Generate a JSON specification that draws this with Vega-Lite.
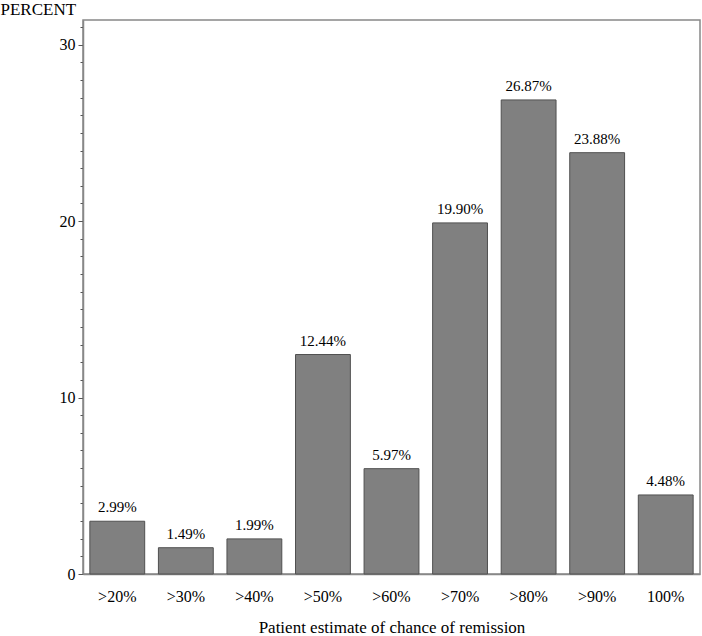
{
  "$schema": "https://vega.github.io/schema/vega-lite/v6.json",
  "autosize": "none",
  "width": 617,
  "height": 554,
  "padding": {"left": 83, "top": 20, "right": 2, "bottom": 62},
  "background": "white",
  "config": {
    "font": "Liberation Serif",
    "view": {"stroke": "#888888", "strokeWidth": 1.5}
  },
  "data": {
    "values": [
      {"cat": ">20%", "pct": 2.99, "label": "2.99%"},
      {"cat": ">30%", "pct": 1.49, "label": "1.49%"},
      {"cat": ">40%", "pct": 1.99, "label": "1.99%"},
      {"cat": ">50%", "pct": 12.44, "label": "12.44%"},
      {"cat": ">60%", "pct": 5.97, "label": "5.97%"},
      {"cat": ">70%", "pct": 19.90, "label": "19.90%"},
      {"cat": ">80%", "pct": 26.87, "label": "26.87%"},
      {"cat": ">90%", "pct": 23.88, "label": "23.88%"},
      {"cat": "100%", "pct": 4.48, "label": "4.48%"}
    ]
  },
  "encoding": {
    "x": {
      "field": "cat",
      "type": "nominal",
      "sort": null,
      "scale": {"paddingInner": 0.2, "paddingOuter": 0.1},
      "axis": {
        "title": "Patient estimate of chance of remission",
        "titleFont": "Liberation Serif",
        "titleFontSize": 17,
        "titleFontWeight": "normal",
        "titleColor": "black",
        "titlePadding": 15,
        "labelAngle": 0,
        "labelFont": "Liberation Serif",
        "labelFontSize": 16,
        "labelColor": "black",
        "labelPadding": 14,
        "ticks": false,
        "domainColor": "#888888",
        "domainWidth": 1.5
      }
    },
    "y": {
      "field": "pct",
      "type": "quantitative",
      "scale": {"domain": [0, 31.4], "nice": false, "zero": true},
      "axis": {
        "title": "PERCENT",
        "titleAngle": 0,
        "titleAlign": "left",
        "titleBaseline": "bottom",
        "titleX": -83,
        "titleY": -2,
        "titleFont": "Liberation Serif",
        "titleFontSize": 17,
        "titleFontWeight": "normal",
        "titleColor": "black",
        "values": [0,1,2,3,4,5,6,7,8,9,10,11,12,13,14,15,16,17,18,19,20,21,22,23,24,25,26,27,28,29,30,31],
        "labelExpr": "datum.value % 10 === 0 ? datum.label : ''",
        "labelFont": "Liberation Serif",
        "labelFontSize": 16,
        "labelColor": "black",
        "labelPadding": 3,
        "tickSize": {"condition": {"test": "datum.value % 10 === 0", "value": 5}, "value": 3},
        "tickColor": "#555555",
        "domainColor": "#888888",
        "domainWidth": 1.5,
        "grid": false
      }
    }
  },
  "layer": [
    {
      "mark": {"type": "bar", "color": "#808080", "stroke": "#505050", "strokeWidth": 1}
    },
    {
      "mark": {"type": "text", "baseline": "bottom", "dy": -6, "font": "Liberation Serif", "fontSize": 15, "color": "black"},
      "encoding": {"text": {"field": "label"}}
    }
  ]
}
